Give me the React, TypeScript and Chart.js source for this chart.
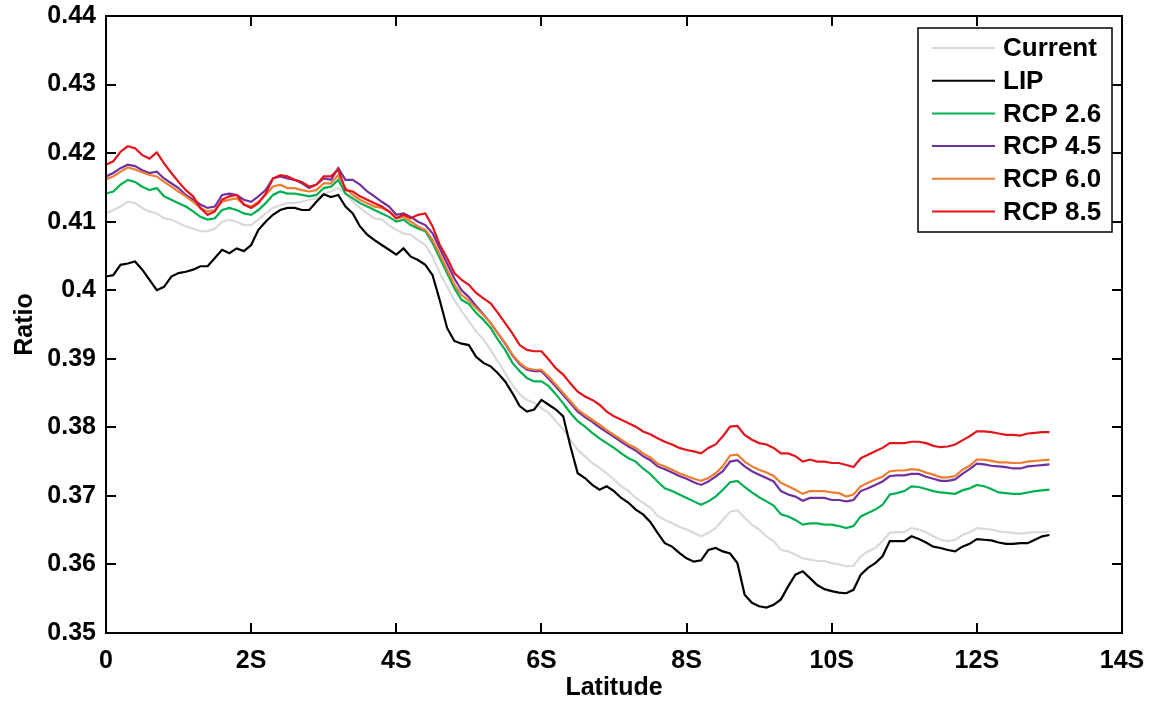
import React, { useEffect, useRef } from "react";
import { Chart, registerables } from "chart.js";

Chart.register(...registerables);

const latitude = [
  0.0, 0.1, 0.2, 0.3, 0.4, 0.5, 0.6, 0.7, 0.8, 0.9,
  1.0, 1.1, 1.2, 1.3, 1.4, 1.5, 1.6, 1.7, 1.8, 1.9,
  2.0, 2.1, 2.2, 2.3, 2.4, 2.5, 2.6, 2.7, 2.8, 2.9,
  3.0, 3.1, 3.2, 3.3, 3.4, 3.5, 3.6, 3.7, 3.8, 3.9,
  4.0, 4.1, 4.2, 4.3, 4.4, 4.5, 4.6, 4.7, 4.8, 4.9,
  5.0, 5.1, 5.2, 5.3, 5.4, 5.5, 5.6, 5.7, 5.8, 5.9,
  6.0, 6.1, 6.2, 6.3, 6.4, 6.5, 6.6, 6.7, 6.8, 6.9,
  7.0, 7.1, 7.2, 7.3, 7.4, 7.5, 7.6, 7.7, 7.8, 7.9,
  8.0, 8.1, 8.2, 8.3, 8.4, 8.5, 8.6, 8.7, 8.8, 8.9,
  9.0, 9.1, 9.2, 9.3, 9.4, 9.5, 9.6, 9.7, 9.8, 9.9,
  10.0, 10.1, 10.2, 10.3, 10.4, 10.5, 10.6, 10.7, 10.8, 10.9,
  11.0, 11.1, 11.2, 11.3, 11.4, 11.5, 11.6, 11.7, 11.8, 11.9,
  12.0, 12.1, 12.2, 12.3, 12.4, 12.5, 12.6, 12.7, 12.8, 12.9,
  13.0,
];

const current = [
  0.4112, 0.4117, 0.4122, 0.4129, 0.4127, 0.4120, 0.4115, 0.4112, 0.4105, 0.4103,
  0.4098, 0.4093, 0.4090, 0.4086, 0.4086, 0.4090, 0.4100, 0.4103, 0.4100, 0.4095,
  0.4095, 0.4103, 0.4112, 0.4120, 0.4124, 0.4127, 0.4127, 0.4129, 0.4132, 0.4134,
  0.4141, 0.4144, 0.4149, 0.4141, 0.4129, 0.4120, 0.4112, 0.4105, 0.4103, 0.4095,
  0.4088, 0.4083, 0.4081, 0.4073, 0.4066, 0.4049, 0.4025, 0.4005, 0.3986, 0.3969,
  0.3955, 0.3940, 0.3928, 0.3913, 0.3896, 0.3879, 0.3862, 0.3848, 0.3840, 0.3836,
  0.3828, 0.3821, 0.3809, 0.3797, 0.3782, 0.3767, 0.3758, 0.3748, 0.3741, 0.3733,
  0.3724, 0.3714, 0.3707, 0.3697, 0.3690, 0.3683, 0.3671, 0.3665, 0.3660, 0.3655,
  0.3651, 0.3646, 0.3641, 0.3646, 0.3653, 0.3665, 0.3677, 0.3679, 0.3668, 0.3658,
  0.3651, 0.3641, 0.3634, 0.3621, 0.3619, 0.3614, 0.3609, 0.3607, 0.3605, 0.3605,
  0.3602, 0.3600, 0.3597, 0.3598, 0.3612, 0.3619, 0.3624, 0.3634, 0.3646, 0.3647,
  0.3647, 0.3653, 0.3651, 0.3647, 0.3641, 0.3636, 0.3634, 0.3636, 0.3643, 0.3647,
  0.3653, 0.3652, 0.3651, 0.3648, 0.3647, 0.3646, 0.3645, 0.3646, 0.3647, 0.3647,
  0.3648,
];

const lip = [
  0.4020, 0.4022, 0.4037, 0.4039, 0.4042, 0.4030, 0.4015, 0.4000, 0.4005, 0.4020,
  0.4025, 0.4027, 0.4030, 0.4035, 0.4035, 0.4047, 0.4059, 0.4054, 0.4061, 0.4057,
  0.4066, 0.4088, 0.4100, 0.4110, 0.4117, 0.4120, 0.4120, 0.4117, 0.4117, 0.4129,
  0.4140, 0.4136, 0.4139, 0.4122, 0.4112, 0.4093, 0.4081, 0.4073, 0.4066, 0.4059,
  0.4052, 0.4061, 0.4049, 0.4044, 0.4037, 0.4022, 0.3985, 0.3945, 0.3926, 0.3922,
  0.3920, 0.3903, 0.3894, 0.3889, 0.3879, 0.3867, 0.3850, 0.3831, 0.3823, 0.3826,
  0.3840, 0.3833, 0.3826, 0.3816, 0.3772, 0.3733, 0.3726, 0.3716, 0.3709, 0.3714,
  0.3707, 0.3697, 0.3690, 0.3680, 0.3673, 0.3662, 0.3646, 0.3631, 0.3626, 0.3617,
  0.3609, 0.3604, 0.3606, 0.3621, 0.3624, 0.3619, 0.3616, 0.3602, 0.3556, 0.3544,
  0.3539, 0.3537, 0.3541, 0.3549, 0.3568, 0.3585, 0.3590, 0.3580, 0.3570, 0.3564,
  0.3561, 0.3559, 0.3558, 0.3563, 0.3585, 0.3595, 0.3602, 0.3612, 0.3634, 0.3634,
  0.3634, 0.3641, 0.3637, 0.3632, 0.3626, 0.3624, 0.3621, 0.3619, 0.3626, 0.3630,
  0.3637, 0.3636, 0.3635, 0.3632, 0.3630, 0.3630, 0.3631, 0.3631, 0.3636, 0.3641,
  0.3643,
];

const rcp26 = [
  0.4141, 0.4144, 0.4154, 0.4161, 0.4158, 0.4151, 0.4146, 0.4149, 0.4137, 0.4132,
  0.4127, 0.4122, 0.4115, 0.4107, 0.4103, 0.4105, 0.4117, 0.4120, 0.4117, 0.4112,
  0.4110, 0.4117, 0.4127, 0.4139, 0.4144, 0.4141, 0.4141, 0.4139, 0.4137, 0.4139,
  0.4149, 0.4151, 0.4161, 0.4141, 0.4134, 0.4127, 0.4122, 0.4117, 0.4112, 0.4107,
  0.4100, 0.4103, 0.4095, 0.4090, 0.4086, 0.4069, 0.4047, 0.4025, 0.4003, 0.3986,
  0.3980, 0.3967, 0.3957, 0.3945, 0.3928, 0.3913, 0.3894, 0.3882, 0.3872, 0.3867,
  0.3867, 0.3860, 0.3848, 0.3835, 0.3821, 0.3809, 0.3801, 0.3792, 0.3784, 0.3777,
  0.3770, 0.3762, 0.3755, 0.3750, 0.3740, 0.3732, 0.3721, 0.3711, 0.3707, 0.3702,
  0.3697, 0.3692, 0.3687, 0.3692, 0.3699, 0.3709, 0.3720, 0.3722, 0.3713, 0.3705,
  0.3698, 0.3692, 0.3686, 0.3673, 0.3670, 0.3665, 0.3658, 0.3660, 0.3660, 0.3658,
  0.3658, 0.3656, 0.3653, 0.3656, 0.3670, 0.3675, 0.3680, 0.3687, 0.3702, 0.3704,
  0.3707, 0.3714, 0.3713, 0.3710, 0.3707, 0.3705, 0.3704, 0.3703, 0.3708, 0.3711,
  0.3716, 0.3714, 0.3710, 0.3705, 0.3704, 0.3703, 0.3703, 0.3705, 0.3707, 0.3708,
  0.3709,
];

const rcp45 = [
  0.4166, 0.4171, 0.4178, 0.4183, 0.4181, 0.4175, 0.4171, 0.4173, 0.4163, 0.4156,
  0.4149, 0.4139, 0.4132, 0.4125, 0.4120, 0.4122, 0.4139, 0.4141, 0.4139, 0.4132,
  0.4129, 0.4137, 0.4146, 0.4163, 0.4166, 0.4163, 0.4161, 0.4156, 0.4149, 0.4154,
  0.4163, 0.4161, 0.4178, 0.4161, 0.4161, 0.4154, 0.4144, 0.4137, 0.4129, 0.4122,
  0.4110, 0.4112, 0.4107, 0.4100, 0.4095, 0.4083, 0.4061, 0.4039, 0.4017, 0.4000,
  0.3990, 0.3977, 0.3965, 0.3952, 0.3937, 0.3922, 0.3905, 0.3892, 0.3884, 0.3882,
  0.3882, 0.3871, 0.3859, 0.3847, 0.3835, 0.3823, 0.3815, 0.3808, 0.3800, 0.3793,
  0.3786, 0.3779, 0.3772, 0.3766, 0.3758, 0.3752, 0.3743, 0.3739, 0.3734, 0.3729,
  0.3725, 0.3720, 0.3716, 0.3721, 0.3728, 0.3736, 0.3750, 0.3752, 0.3743, 0.3736,
  0.3731, 0.3726, 0.3721, 0.3707, 0.3702, 0.3699, 0.3693, 0.3697, 0.3697, 0.3697,
  0.3694, 0.3694, 0.3692, 0.3694, 0.3707, 0.3711, 0.3716, 0.3721, 0.3729, 0.3730,
  0.3730, 0.3732, 0.3732, 0.3728, 0.3725, 0.3722, 0.3722, 0.3724, 0.3732, 0.3739,
  0.3747, 0.3746, 0.3744, 0.3743, 0.3742, 0.3740, 0.3740, 0.3743, 0.3744, 0.3745,
  0.3746,
];

const rcp60 = [
  0.4162, 0.4166, 0.4173, 0.4179, 0.4176, 0.4172, 0.4168, 0.4166, 0.4158, 0.4151,
  0.4144, 0.4137, 0.4129, 0.4120, 0.4115, 0.4117, 0.4129, 0.4132, 0.4134, 0.4125,
  0.4122, 0.4129, 0.4139, 0.4151, 0.4154, 0.4149, 0.4149, 0.4146, 0.4144, 0.4146,
  0.4156, 0.4156, 0.4168, 0.4149, 0.4139, 0.4132, 0.4127, 0.4122, 0.4120, 0.4115,
  0.4105, 0.4107, 0.4100, 0.4093, 0.4088, 0.4073, 0.4052, 0.4030, 0.4008, 0.3993,
  0.3985, 0.3974, 0.3964, 0.3952, 0.3937, 0.3923, 0.3906, 0.3894, 0.3886, 0.3884,
  0.3884, 0.3874, 0.3862, 0.3850, 0.3838, 0.3826, 0.3818, 0.3811, 0.3804, 0.3796,
  0.3789, 0.3782, 0.3775, 0.3770, 0.3762, 0.3756, 0.3747, 0.3743, 0.3738, 0.3733,
  0.3729, 0.3725, 0.3722, 0.3726, 0.3733, 0.3743, 0.3759, 0.3760, 0.3750, 0.3743,
  0.3738, 0.3734, 0.3729, 0.3719, 0.3714, 0.3709, 0.3703, 0.3707, 0.3707, 0.3707,
  0.3705, 0.3704, 0.3699, 0.3702, 0.3714, 0.3719, 0.3724, 0.3728, 0.3736, 0.3737,
  0.3737, 0.3739, 0.3738, 0.3734, 0.3731, 0.3727, 0.3727, 0.3729, 0.3738, 0.3744,
  0.3753, 0.3753, 0.3751, 0.3749, 0.3749, 0.3748, 0.3748, 0.3750, 0.3751, 0.3752,
  0.3753,
];

const rcp85 = [
  0.4183, 0.4188, 0.4202, 0.4210, 0.4207, 0.4197, 0.4192, 0.4201, 0.4185, 0.4171,
  0.4158, 0.4146, 0.4137, 0.4120, 0.4110, 0.4115, 0.4132, 0.4137, 0.4139, 0.4125,
  0.4120, 0.4127, 0.4141, 0.4163, 0.4168, 0.4166, 0.4161, 0.4158, 0.4151, 0.4154,
  0.4166, 0.4166, 0.4176, 0.4146, 0.4144, 0.4137, 0.4132, 0.4127, 0.4122, 0.4115,
  0.4105, 0.4110, 0.4105, 0.4110, 0.4112, 0.4093, 0.4066, 0.4047, 0.4025, 0.4015,
  0.4008, 0.3996, 0.3988, 0.3981, 0.3967, 0.3952, 0.3937, 0.3920, 0.3913, 0.3911,
  0.3911, 0.3899, 0.3886, 0.3877, 0.3864, 0.3852, 0.3845, 0.3840, 0.3833, 0.3823,
  0.3816, 0.3811, 0.3806, 0.3801, 0.3794, 0.3790, 0.3784, 0.3779, 0.3775, 0.3770,
  0.3767, 0.3765, 0.3762, 0.3770, 0.3775, 0.3787, 0.3801, 0.3802, 0.3789, 0.3782,
  0.3777, 0.3775, 0.3770, 0.3762, 0.3762, 0.3758, 0.3750, 0.3753, 0.3750, 0.3750,
  0.3748, 0.3748, 0.3745, 0.3742, 0.3755, 0.3760, 0.3765, 0.3770, 0.3777, 0.3777,
  0.3777, 0.3779, 0.3779, 0.3777, 0.3773, 0.3771, 0.3772, 0.3775, 0.3781, 0.3787,
  0.3794, 0.3794, 0.3793, 0.3791, 0.3789, 0.3789, 0.3788, 0.3791, 0.3792, 0.3793,
  0.3793,
];

const seriesNames = ["Current", "LIP", "RCP 2.6", "RCP 4.5", "RCP 6.0", "RCP 8.5"];
const seriesColors = ["#d9d9d9", "#000000", "#00b050", "#7030a0", "#ed7d31", "#e3141b"];
const seriesValues = [current, lip, rcp26, rcp45, rcp60, rcp85];

const xTickValues = [0, 2, 4, 6, 8, 10, 12, 14];
const xTickLabels = ["0", "2S", "4S", "6S", "8S", "10S", "12S", "14S"];
const yTickValues = [0.35, 0.36, 0.37, 0.38, 0.39, 0.4, 0.41, 0.42, 0.43, 0.44];
const yTickLabels = ["0.35", "0.36", "0.37", "0.38", "0.39", "0.4", "0.41", "0.42", "0.43", "0.44"];

const FONT = "'Liberation Sans', Arial, Helvetica, sans-serif";

const framePlugin = {
  id: "matlabFrame",
  afterDatasetsDraw(chart: any) {
    const { ctx, chartArea, scales } = chart;
    const { left, right, top, bottom } = chartArea;
    const xs = scales.x;
    const ys = scales.y;
    const tick = 10;
    ctx.save();
    ctx.strokeStyle = "#000";
    ctx.lineWidth = 2;
    ctx.beginPath();
    xs.ticks.forEach((t: any) => {
      const px = Math.round(xs.getPixelForValue(t.value));
      ctx.moveTo(px, bottom);
      ctx.lineTo(px, bottom - tick);
      ctx.moveTo(px, top);
      ctx.lineTo(px, top + tick);
    });
    ys.ticks.forEach((t: any) => {
      const py = Math.round(ys.getPixelForValue(t.value));
      ctx.moveTo(left, py);
      ctx.lineTo(left + tick, py);
      ctx.moveTo(right, py);
      ctx.lineTo(right - tick, py);
    });
    ctx.stroke();
    ctx.strokeRect(left, top, right - left, bottom - top);

    // legend box
    const boxRight = right - 10;
    const boxLeft = boxRight - 194;
    const boxTop = top + 12;
    const rowH = 32.7;
    const boxBottom = boxTop + 204;
    ctx.fillStyle = "#fff";
    ctx.fillRect(boxLeft, boxTop, boxRight - boxLeft, boxBottom - boxTop);
    ctx.lineWidth = 1.5;
    ctx.strokeStyle = "#000";
    ctx.strokeRect(boxLeft, boxTop, boxRight - boxLeft, boxBottom - boxTop);
    ctx.font = `bold 26px ${FONT}`;
    ctx.textBaseline = "middle";
    ctx.textAlign = "left";
    seriesNames.forEach((name, i) => {
      const yy = boxTop + 20 + i * rowH;
      ctx.strokeStyle = seriesColors[i];
      ctx.lineWidth = 2;
      ctx.beginPath();
      ctx.moveTo(boxLeft + 14, yy);
      ctx.lineTo(boxLeft + 77, yy);
      ctx.stroke();
      ctx.fillStyle = "#000";
      ctx.fillText(name, boxLeft + 85, yy + 1);
    });
    ctx.restore();
  },
};

export default function App() {
  const canvasRef = useRef<HTMLCanvasElement>(null);

  useEffect(() => {
    if (!canvasRef.current) return;
    const datasets = seriesNames.map((name, i) => ({
      label: name,
      data: latitude.map((lat, j) => ({ x: lat, y: seriesValues[i][j] })),
      borderColor: seriesColors[i],
      backgroundColor: seriesColors[i],
      borderWidth: 2.2,
      pointRadius: 0,
      tension: 0,
      fill: false,
      order: seriesNames.length - i,
    }));

    const chart = new Chart(canvasRef.current, {
      type: "line",
      data: { datasets },
      plugins: [framePlugin],
      options: {
        animation: false,
        responsive: true,
        maintainAspectRatio: false,
        parsing: false as any,
        layout: { padding: { left: 0, top: 16, right: 32, bottom: 0 } },
        plugins: {
          legend: { display: false },
          tooltip: { enabled: false },
        },
        scales: {
          x: {
            type: "linear",
            min: 0,
            max: 14,
            afterBuildTicks: (scale: any) => {
              scale.ticks = xTickValues.map((v) => ({ value: v }));
            },
            afterFit: (scale: any) => {
              scale.height = 73;
              scale.paddingLeft = 0;
              scale.paddingRight = 0;
            },
            grid: { display: false, drawTicks: false },
            border: { display: false },
            ticks: {
              color: "#000",
              padding: 13,
              maxRotation: 0,
              autoSkip: false,
              font: { family: FONT, size: 25, weight: "bold" },
              callback: (value: any) => {
                const k = xTickValues.indexOf(Number(value));
                return k >= 0 ? xTickLabels[k] : "";
              },
            },
            title: {
              display: true,
              text: "Latitude",
              color: "#000",
              padding: { top: 0, bottom: 3 },
              font: { family: FONT, size: 25, weight: "bold" },
            },
          },
          y: {
            type: "linear",
            min: 0.35,
            max: 0.44,
            afterBuildTicks: (scale: any) => {
              scale.ticks = yTickValues.map((v) => ({ value: v }));
            },
            afterFit: (scale: any) => {
              scale.width = 106;
              scale.paddingTop = 0;
              scale.paddingBottom = 0;
            },
            grid: { display: false, drawTicks: false },
            border: { display: false },
            ticks: {
              color: "#000",
              padding: 10,
              autoSkip: false,
              font: { family: FONT, size: 25, weight: "bold" },
              callback: (value: any) => {
                const k = yTickValues.findIndex((v) => Math.abs(v - Number(value)) < 1e-9);
                return k >= 0 ? yTickLabels[k] : "";
              },
            },
            title: {
              display: true,
              text: "Ratio",
              color: "#000",
              padding: { top: 10, bottom: 0 },
              font: { family: FONT, size: 25, weight: "bold" },
            },
          },
        },
      },
    });
    return () => chart.destroy();
  }, []);

  return (
    <div
      style={{
        position: "fixed",
        left: 0,
        top: 0,
        width: 1154,
        height: 706,
        background: "#fff",
      }}
    >
      <canvas ref={canvasRef} />
    </div>
  );
}
